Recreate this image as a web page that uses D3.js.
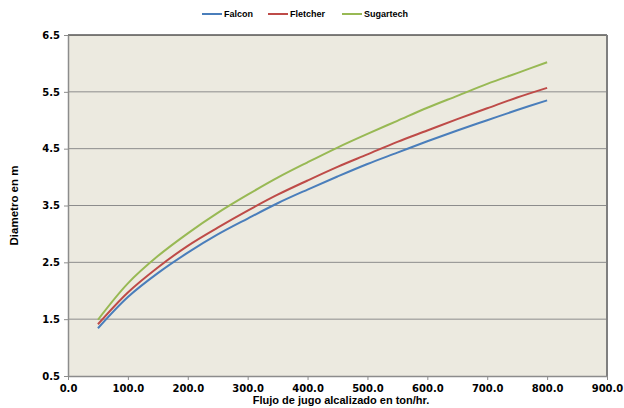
<!DOCTYPE html>
<html>
<head>
<meta charset="utf-8">
<script src="https://cdnjs.cloudflare.com/ajax/libs/d3/7.8.5/d3.min.js"></script>
<style>
  body { margin: 0; background: #fff; }
  text { font-family: "Liberation Sans", Arial, sans-serif; }
</style>
</head>
<body>
<div id="chart"></div>
<script>
// --- données ---
const flujo = [50, 100, 150, 200, 250, 300, 350, 400, 450, 500, 550, 600, 650, 700, 750, 800];
const falcon    = [1.34, 1.89, 2.31, 2.67, 2.99, 3.27, 3.54, 3.78, 4.01, 4.23, 4.43, 4.63, 4.82, 5.00, 5.18, 5.35];
const fletcher  = [1.41, 1.97, 2.41, 2.79, 3.11, 3.41, 3.69, 3.94, 4.18, 4.40, 4.62, 4.82, 5.02, 5.21, 5.40, 5.57];
const sugartech = [1.49, 2.13, 2.61, 3.01, 3.37, 3.69, 3.99, 4.26, 4.52, 4.76, 4.99, 5.22, 5.43, 5.64, 5.83, 6.02];
const seriesNames = ["Falcon", "Fletcher", "Sugartech"];
const seriesColors = ["#4A7EBB", "#BE4B48", "#98B954"];
const xTicks = [0, 100, 200, 300, 400, 500, 600, 700, 800, 900];
const yTicks = [0.5, 1.5, 2.5, 3.5, 4.5, 5.5, 6.5];

const width = 624, height = 408;
const plot = {left: 68, right: 607, top: 35, bottom: 376};

const svg = d3.select("#chart").append("svg")
    .attr("width", width)
    .attr("height", height);

const x = d3.scaleLinear().domain([0, 900]).range([plot.left, plot.right]);
const y = d3.scaleLinear().domain([0.5, 6.5]).range([plot.bottom, plot.top]);

// fond de la zone de tracé
svg.append("rect")
    .attr("x", plot.left).attr("y", plot.top)
    .attr("width", plot.right - plot.left).attr("height", plot.bottom - plot.top)
    .attr("fill", "#ECEAE0");

// grille horizontale
svg.append("g").selectAll("line")
    .data(yTicks.slice(1, -1))
    .enter().append("line")
    .attr("x1", plot.left).attr("x2", plot.right)
    .attr("y1", d => y(d)).attr("y2", d => y(d))
    .attr("stroke", "#8C8C8C")
    .attr("stroke-width", 1);

// bordures haut / droite
svg.append("line")
    .attr("x1", plot.left).attr("x2", plot.right)
    .attr("y1", plot.top).attr("y2", plot.top)
    .attr("stroke", "#000").attr("stroke-width", 1);
svg.append("line")
    .attr("x1", plot.right).attr("x2", plot.right)
    .attr("y1", plot.top).attr("y2", plot.bottom)
    .attr("stroke", "#7F7F7F").attr("stroke-width", 2);

// axes
const xAxis = svg.append("g")
    .attr("transform", `translate(0,${plot.bottom})`)
    .call(d3.axisBottom(x).tickValues(xTicks).tickFormat(d3.format(".1f")).tickSize(4).tickSizeOuter(0));
const yAxis = svg.append("g")
    .attr("transform", `translate(${plot.left},0)`)
    .call(d3.axisLeft(y).tickValues(yTicks).tickFormat(d3.format(".1f")).tickSize(4).tickSizeOuter(0));

[xAxis, yAxis].forEach(a => {
    a.select(".domain").attr("stroke", "#8C8C8C").attr("stroke-width", 1.5);
    a.selectAll(".tick line").attr("stroke", "#8C8C8C");
    a.selectAll(".tick text")
        .style("font-family", "'DejaVu Sans', Verdana, sans-serif")
        .style("font-size", "10px")
        .style("font-weight", "bold")
        .attr("fill", "#000");
});
xAxis.selectAll(".tick text").attr("dy", "0.85em");
yAxis.selectAll(".tick text").attr("x", -8);

// titres des axes
svg.append("text")
    .attr("x", 341)
    .attr("y", 404)
    .attr("text-anchor", "middle")
    .style("font-size", "11px")
    .style("font-weight", "bold")
    .text("Flujo de jugo alcalizado en ton/hr.");

svg.append("text")
    .attr("transform", `translate(18,${(plot.top + plot.bottom) / 2}) rotate(-90)`)
    .attr("text-anchor", "middle")
    .style("font-size", "11.5px")
    .style("font-weight", "bold")
    .text("Diametro en m");

// courbes
const allSeries = [falcon, fletcher, sugartech];
const line = d3.line()
    .x((d, i) => x(flujo[i]))
    .y(d => y(d))
    .curve(d3.curveCatmullRom.alpha(0.5));

allSeries.forEach((vals, k) => {
    svg.append("path")
        .datum(vals)
        .attr("d", line)
        .attr("fill", "none")
        .attr("stroke", seriesColors[k])
        .attr("stroke-width", 2);
});

// légende
const legendX = [202, 268, 342];
seriesNames.forEach((name, k) => {
    const g = svg.append("g").attr("transform", `translate(${legendX[k]},14)`);
    g.append("line")
        .attr("x1", 0).attr("x2", 20)
        .attr("stroke", seriesColors[k])
        .attr("stroke-width", 2);
    g.append("text")
        .attr("x", 22)
        .attr("dy", "0.35em")
        .style("font-size", "9px")
        .style("font-weight", "bold")
        .text(name);
});
</script>
</body>
</html>
